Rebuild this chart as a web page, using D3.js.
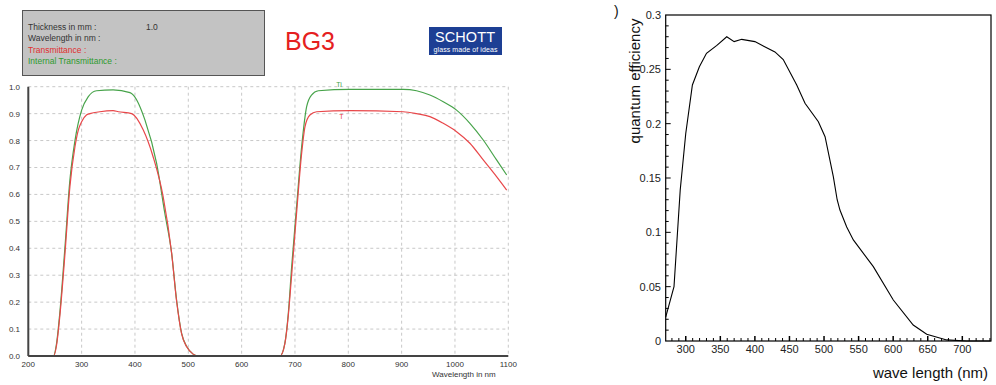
<!DOCTYPE html>
<html>
<head>
<meta charset="utf-8">
<script src="https://cdn.jsdelivr.net/npm/d3@7"></script>
<style>
  body { margin: 0; background: #fff; }
  svg { display: block; font-family: "Liberation Sans", Arial, sans-serif; }
</style>
</head>
<body>
<div id="chart"></div>
<script>
// left chart: SCHOTT BG3 transmittance
const tiWave  = [200, 247, 253, 259, 268.8, 278, 287.5, 300, 312.5, 328, 359, 390.6, 397, 418.8, 440.6, 456, 468.8, 478, 487.5, 497, 509, 519,
                 672, 681, 687.5, 693.75, 703, 712.5, 721.9, 731, 743.75, 803, 903, 928, 953, 978, 1003, 1028, 1053, 1078, 1097];
const tiValue = [0, 0, 0.047, 0.158, 0.406, 0.653, 0.80, 0.913, 0.963, 0.985, 0.988, 0.978, 0.969, 0.876, 0.715, 0.53, 0.381, 0.208, 0.084, 0.035, 0.007, 0,
                 0, 0.047, 0.158, 0.33, 0.554, 0.777, 0.926, 0.969, 0.985, 0.99, 0.99, 0.985, 0.969, 0.944, 0.913, 0.864, 0.802, 0.728, 0.672];
const tWave  = [200, 247, 253, 259, 268.8, 278, 287.5, 293.75, 300, 309, 315.6, 334, 359, 368.8, 393.75, 415.6, 434, 453, 468.8, 478, 487.5, 497, 509, 519,
                672, 681, 687.5, 693.75, 703, 712.5, 718.75, 728, 740.6, 803, 903, 928, 953, 978, 1003, 1028, 1053, 1078, 1097];
const tValue = [0, 0, 0.04, 0.146, 0.381, 0.629, 0.777, 0.839, 0.87, 0.895, 0.90, 0.907, 0.911, 0.907, 0.90, 0.839, 0.74, 0.59, 0.381, 0.205, 0.082, 0.034, 0.007, 0,
                0, 0.045, 0.15, 0.30, 0.53, 0.752, 0.851, 0.895, 0.907, 0.911, 0.907, 0.90, 0.889, 0.864, 0.833, 0.79, 0.728, 0.666, 0.616];
const leftXTicks = [200, 300, 400, 500, 600, 700, 800, 900, 1000, 1100];
const leftYTicks = [0, 0.1, 0.2, 0.3, 0.4, 0.5, 0.6, 0.7, 0.8, 0.9, 1.0];
const infoLines = ["Thickness in mm :", "Wavelength in nm :", "Transmittance :", "Internal Transmittance :"];

// right chart: quantum efficiency
const qeWave  = [271, 283, 292, 300, 309.6, 319.7, 330, 345, 359.3, 370, 381, 400, 429, 441, 460.5, 472.5, 491.8, 501.5, 513.5, 519, 523, 532.8, 542.4, 571.3, 600.2, 629, 648.5, 677.4, 706, 741];
const qeValue = [0.022, 0.05, 0.139, 0.191, 0.2356, 0.2524, 0.2647, 0.272, 0.280, 0.2755, 0.2776, 0.2755, 0.266, 0.259, 0.2356, 0.2187, 0.2018, 0.188, 0.151, 0.13, 0.1205, 0.105, 0.093, 0.0684, 0.0377, 0.0147, 0.0062, 0.001, 0, 0];
const rightXTicks = [300, 350, 400, 450, 500, 550, 600, 650, 700];
const rightYTicks = [0, 0.05, 0.1, 0.15, 0.2, 0.25, 0.3];

const width = 996, height = 385;
const green = "#47a34a", red = "#e8474a";

const svg = d3.select("#chart").append("svg")
  .attr("width", width)
  .attr("height", height);

// ---------- left chart ----------
const xL = d3.scaleLinear().domain([200, 1100]).range([28.3, 508.3]);
const yL = d3.scaleLinear().domain([0, 1]).range([356, 86.7]);

const left = svg.append("g").attr("class", "left");

// info box
left.append("rect")
  .attr("x", 22.5).attr("y", 10.5)
  .attr("width", 242).attr("height", 65)
  .attr("fill", "#c3c3c3")
  .attr("stroke", "#555");

left.selectAll(".info")
  .data(infoLines)
  .enter().append("text")
  .attr("class", "info")
  .attr("x", 28)
  .attr("y", (d, i) => 30 + i * 11.3)
  .style("font-size", "8.5px")
  .style("fill", (d, i) => i === 2 ? "#e03030" : i === 3 ? "#2e9a2e" : "#333")
  .text(d => d);

left.append("text")
  .attr("x", 146).attr("y", 30)
  .style("font-size", "8.5px").style("fill", "#333")
  .text("1.0");

left.append("text")
  .attr("x", 285).attr("y", 50)
  .style("font-size", "25px").style("fill", "#e52020")
  .text("BG3");

// logo
left.append("rect")
  .attr("x", 429).attr("y", 27)
  .attr("width", 73).attr("height", 28)
  .attr("fill", "#1d3f94");
left.append("text")
  .attr("x", 465).attr("y", 42)
  .attr("text-anchor", "middle")
  .attr("textLength", 60)
  .style("font-size", "14.5px").style("fill", "#fff")
  .text("SCHOTT");
left.append("text")
  .attr("x", 465.5).attr("y", 51.5)
  .attr("text-anchor", "middle")
  .attr("textLength", 64)
  .style("font-size", "7px").style("fill", "#fff")
  .text("glass made of ideas");

// grid
left.append("g")
  .selectAll("line")
  .data(leftXTicks.slice(1))
  .enter().append("line")
  .attr("x1", d => xL(d)).attr("x2", d => xL(d))
  .attr("y1", yL(1)).attr("y2", yL(0))
  .attr("stroke", "#c8c8c8").attr("stroke-dasharray", "3,3");

left.append("g")
  .selectAll("line")
  .data(leftYTicks.slice(1))
  .enter().append("line")
  .attr("x1", xL(200)).attr("x2", xL(1100))
  .attr("y1", d => yL(d)).attr("y2", d => yL(d))
  .attr("stroke", "#c8c8c8").attr("stroke-dasharray", "3,3");

// curves
const leftLine = d3.line()
  .x(d => xL(d[0]))
  .y(d => yL(d[1]))
  .curve(d3.curveMonotoneX);

left.append("path")
  .datum(d3.zip(tiWave, tiValue))
  .attr("d", leftLine)
  .attr("fill", "none").attr("stroke", green).attr("stroke-width", 1.2);

left.append("path")
  .datum(d3.zip(tWave, tValue))
  .attr("d", leftLine)
  .attr("fill", "none").attr("stroke", red).attr("stroke-width", 1.2);

left.append("text")
  .attr("x", xL(800) - 12).attr("y", yL(0.99) - 2)
  .style("font-size", "7px").style("fill", green)
  .text("Ti");
left.append("text")
  .attr("x", xL(800) - 9).attr("y", yL(0.911) + 8)
  .style("font-size", "7px").style("fill", red)
  .text("T");

// axes
left.append("line")
  .attr("x1", xL(200)).attr("x2", xL(200))
  .attr("y1", yL(1)).attr("y2", yL(0))
  .attr("stroke", "#444").attr("stroke-width", 2);
left.append("line")
  .attr("x1", xL(200)).attr("x2", xL(1100))
  .attr("y1", yL(0)).attr("y2", yL(0))
  .attr("stroke", "#444").attr("stroke-width", 2);

left.append("g")
  .selectAll("text")
  .data(leftYTicks)
  .enter().append("text")
  .attr("x", 20)
  .attr("y", d => yL(d) + 3)
  .attr("text-anchor", "end")
  .style("font-size", "8px").style("fill", "#333")
  .text(d => d3.format(".1f")(d));

left.append("g")
  .selectAll("text")
  .data(leftXTicks)
  .enter().append("text")
  .attr("x", d => xL(d))
  .attr("y", 367)
  .attr("text-anchor", "middle")
  .style("font-size", "8px").style("fill", "#333")
  .text(d => d);

left.append("text")
  .attr("x", 432).attr("y", 377)
  .style("font-size", "8px").style("fill", "#333")
  .text("Wavelength in nm");

// ---------- right chart ----------
const xR = d3.scaleLinear().domain([271, 741.5]).range([665.7, 991]);
const yR = d3.scaleLinear().domain([0, 0.3]).range([341, 15]);

const right = svg.append("g").attr("class", "right");

right.append("rect")
  .attr("x", xR(271)).attr("y", yR(0.3))
  .attr("width", xR(741.5) - xR(271))
  .attr("height", yR(0) - yR(0.3))
  .attr("fill", "none").attr("stroke", "#000").attr("stroke-width", 1.2);

// inward ticks on x axis
const xMinor = d3.range(280, 741, 10);
right.append("g")
  .selectAll("line")
  .data(xMinor)
  .enter().append("line")
  .attr("x1", d => xR(d)).attr("x2", d => xR(d))
  .attr("y1", yR(0))
  .attr("y2", d => yR(0) - (d % 50 === 0 ? 5 : 3))
  .attr("stroke", "#000")
  .attr("stroke-width", d => d % 50 === 0 ? 1.5 : 1);

// inward ticks on y axis
const yMinor = d3.range(1, 30).map(d => d / 100);
right.append("g")
  .selectAll("line")
  .data(yMinor)
  .enter().append("line")
  .attr("x1", xR(271))
  .attr("x2", (d, i) => xR(271) + ((i + 1) % 5 === 0 ? 5 : 3))
  .attr("y1", d => yR(d)).attr("y2", d => yR(d))
  .attr("stroke", "#000").attr("stroke-width", 1);

right.append("g")
  .selectAll("text")
  .data(rightXTicks)
  .enter().append("text")
  .attr("x", d => xR(d))
  .attr("y", 353)
  .attr("text-anchor", "middle")
  .style("font-size", "11px").style("fill", "#222")
  .text(d => d);

right.append("g")
  .selectAll("text")
  .data(rightYTicks)
  .enter().append("text")
  .attr("x", 661)
  .attr("y", d => yR(d) + 4)
  .attr("text-anchor", "end")
  .style("font-size", "11px").style("fill", "#222")
  .text(d => d);

const qeLine = d3.line()
  .x(d => xR(d[0]))
  .y(d => yR(d[1]));

right.append("path")
  .datum(d3.zip(qeWave, qeValue))
  .attr("d", qeLine)
  .attr("fill", "none").attr("stroke", "#000").attr("stroke-width", 1.1);

right.append("text")
  .attr("transform", "translate(640,81) rotate(-90)")
  .attr("text-anchor", "middle")
  .style("font-size", "15px").style("fill", "#111")
  .text("quantum efficiency");

right.append("text")
  .attr("x", 614).attr("y", 16)
  .style("font-size", "14px").style("fill", "#111")
  .text(")");

right.append("text")
  .attr("x", 988).attr("y", 378)
  .attr("text-anchor", "end")
  .style("font-size", "15px").style("fill", "#111")
  .text("wave length (nm)");
</script>
</body>
</html>
